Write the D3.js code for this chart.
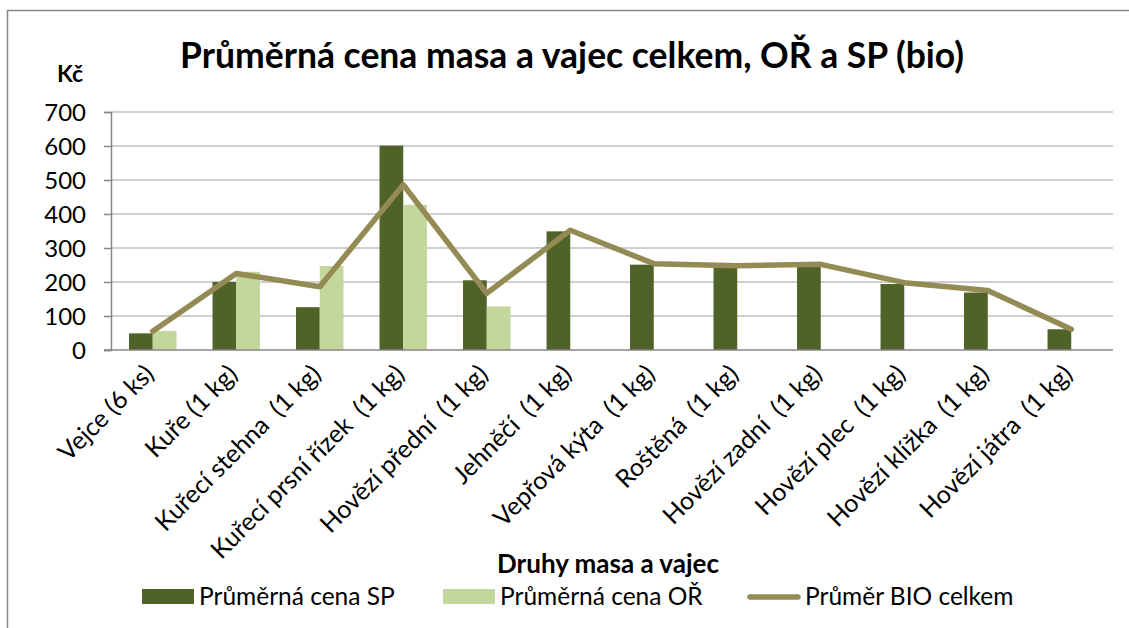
<!DOCTYPE html>
<html>
<head>
<meta charset="utf-8">
<script src="https://cdn.jsdelivr.net/npm/d3@7"></script>
<style>
    body { margin: 0; background: #fff; }
    svg text { font-family: Lato, "Open Sans", sans-serif; fill: #000; white-space: pre; }
</style>
</head>
<body>
<div id="chart"></div>
<script>
// Data
var categories = ["Vejce (6 ks)", "Kuře (1 kg)", "Kuřecí stehna  (1 kg)", "Kuřecí prsní řízek  (1 kg)",
    "Hovězí přední  (1 kg)", "Jehněčí  (1 kg)", "Vepřová kýta  (1 kg)", "Roštěná  (1 kg)",
    "Hovězí zadní  (1 kg)", "Hovězí plec  (1 kg)", "Hovězí klížka  (1 kg)", "Hovězí játra  (1 kg)"];
var cenaSP = [49, 200, 126, 601, 205, 349, 251, 243, 246, 194, 169, 61];
var cenaOR = [56, 230, 247, 427, 128, null, null, null, null, null, null, null];
var prumerBio = [55, 225, 186, 486, 167, 352, 254, 248, 252, 198, 175, 61];
var yTicks = [0, 100, 200, 300, 400, 500, 600, 700];
var seriesNames = ["Průměrná cena SP", "Průměrná cena OŘ", "Průměr BIO celkem"];

var colDark = "#4F6228", colLight = "#C3D69B", colLine = "#948A54";

var W = 1129, H = 628;
var margin = {left: 111, right: 16, top: 112, bottom: 278};

var svg = d3.select("#chart").append("svg")
    .attr("width", W)
    .attr("height", H);

// chart border
svg.append("rect")
    .attr("x", 7.5).attr("y", 10.5)
    .attr("width", W + 20).attr("height", H + 20)
    .attr("fill", "none")
    .attr("stroke", "#878787")
    .attr("stroke-width", 1.5);

var x0 = d3.scaleBand()
    .domain(categories)
    .range([margin.left, W - margin.right])
    .paddingInner(0.432)
    .paddingOuter(0.216);

var x1 = d3.scaleBand()
    .domain([0, 1])
    .range([0, x0.bandwidth()]);

var y = d3.scaleLinear()
    .domain([0, 700])
    .range([H - margin.bottom, margin.top]);

// gridlines
svg.append("g")
    .selectAll("line")
    .data(yTicks.slice(1))
    .enter().append("line")
    .attr("x1", margin.left).attr("x2", W - margin.right)
    .attr("y1", function(d) { return y(d); })
    .attr("y2", function(d) { return y(d); })
    .attr("stroke", "#BFBFBF")
    .attr("stroke-width", 1.5);

// y axis
var yAxis = svg.append("g")
    .attr("transform", "translate(" + margin.left + ",0)")
    .call(d3.axisLeft(y).tickValues(yTicks).tickSize(7).tickPadding(18));
yAxis.selectAll("path, line").attr("stroke", "#868686").attr("stroke-width", 1.5);
yAxis.selectAll("text").style("font-size", "24px").attr("dy", "0.35em");

// bars
var bars = svg.append("g");
bars.selectAll(".sp")
    .data(cenaSP)
    .enter().append("rect")
    .attr("class", "sp")
    .attr("x", function(d, i) { return x0(categories[i]) + x1(0); })
    .attr("width", x1.bandwidth())
    .attr("y", function(d) { return y(d); })
    .attr("height", function(d) { return y(0) - y(d); })
    .attr("fill", colDark);

bars.selectAll(".or")
    .data(cenaOR)
    .enter().filter(function(d) { return d != null; })
    .append("rect")
    .attr("class", "or")
    .attr("x", function(d, i) { return x0(categories[i]) + x1(1); })
    .attr("width", x1.bandwidth())
    .attr("y", function(d) { return y(d); })
    .attr("height", function(d) { return y(0) - y(d); })
    .attr("fill", colLight);

// x axis line
svg.append("line")
    .attr("x1", margin.left - 7).attr("x2", W - margin.right)
    .attr("y1", y(0)).attr("y2", y(0))
    .attr("stroke", "#868686")
    .attr("stroke-width", 1.5);

// average line
var line = d3.line()
    .x(function(d, i) { return x0(categories[i]) + x0.bandwidth() / 2; })
    .y(function(d) { return y(d); });

svg.append("path")
    .datum(prumerBio)
    .attr("d", line)
    .attr("fill", "none")
    .attr("stroke", colLine)
    .attr("stroke-width", 5.5)
    .attr("stroke-linejoin", "round")
    .attr("stroke-linecap", "round");

// x labels, rotated
svg.append("g").selectAll("text")
    .data(categories)
    .enter().append("text")
    .attr("transform", function(d) {
        var cx = x0(d) + x0.bandwidth() / 2 - 8;
        return "translate(" + cx + "," + (y(0) + 15) + ") rotate(-45)";
    })
    .attr("text-anchor", "end")
    .attr("dy", 15)
    .style("font-size", "25px")
    .text(function(d) { return d; });

// titles
svg.append("text")
    .attr("x", 572).attr("y", 68)
    .attr("text-anchor", "middle")
    .style("font-size", "35.5px")
    .style("font-weight", "bold")
    .text("Průměrná cena masa a vajec celkem, OŘ a SP (bio)");

svg.append("text")
    .attr("x", 70).attr("y", 82)
    .attr("text-anchor", "middle")
    .style("font-size", "23px")
    .style("font-weight", "bold")
    .text("Kč");

svg.append("text")
    .attr("x", 608).attr("y", 573)
    .attr("text-anchor", "middle")
    .style("font-size", "26px")
    .style("font-weight", "bold")
    .text("Druhy masa a vajec");

// legend
var legendX = [142, 443, 748];
var legend = svg.append("g").selectAll("g")
    .data(seriesNames)
    .enter().append("g")
    .attr("transform", function(d, i) { return "translate(" + legendX[i] + ",596)"; });

legend.each(function(d, i) {
    var g = d3.select(this);
    if (i < 2) {
        g.append("rect")
            .attr("x", 0).attr("y", -7)
            .attr("width", 52).attr("height", 15)
            .attr("fill", i == 0 ? colDark : colLight);
    } else {
        g.append("line")
            .attr("x1", 2).attr("x2", 50)
            .attr("y1", 1).attr("y2", 1)
            .attr("stroke", colLine)
            .attr("stroke-width", 5.5)
            .attr("stroke-linecap", "round");
    }
    g.append("text")
        .attr("x", 57).attr("y", 0)
        .attr("dy", "0.35em")
        .style("font-size", "24.5px")
        .text(d);
});
</script>
</body>
</html>
